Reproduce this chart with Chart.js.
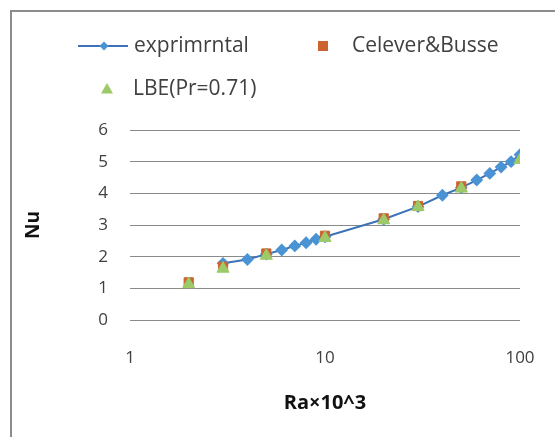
<!DOCTYPE html>
<html>
<head>
<meta charset="utf-8">
<script src="https://cdn.jsdelivr.net/npm/chart.js@4/dist/chart.umd.min.js"></script>
<style>
  html, body { margin: 0; padding: 0; background: #fff; }
  #wrap { position: relative; width: 555px; height: 437px; }
  #frame { position: absolute; left: 10px; top: 10px; right: -10px; bottom: -10px; border: 2px solid #8c8c8c; }
  canvas { position: absolute; left: 0; top: 0; }
</style>
</head>
<body>
<div id="wrap">
  <div id="frame"></div>
  <canvas id="chart" width="555" height="437"></canvas>
</div>
<script>
// Ra x 10^3 values and Nu readings
const expRa = [3, 4, 5, 6, 7, 8, 9, 10, 20, 30, 40, 50, 60, 70, 80, 90, 100];
const expNu = [1.79, 1.91, 2.08, 2.21, 2.34, 2.44, 2.55, 2.63, 3.18, 3.58, 3.94, 4.18, 4.42, 4.63, 4.83, 5.0, 5.22];

const cbRa = [2, 3, 5, 10, 20, 30, 50];
const cbNu = [1.19, 1.68, 2.1, 2.66, 3.21, 3.6, 4.22];

const lbeRa = [2, 3, 5, 10, 20, 30, 50, 100];
const lbeNu = [1.13, 1.62, 2.03, 2.59, 3.15, 3.57, 4.15, 5.05];

const xTicks = [1, 10, 100];

const blueLine = '#3c73b8';
const bluePt = '#4a93d4';
const orange = '#cc6430';
const green = '#9dca68';
const textColor = '#404040';

function toPoints(xs, ys) {
  return xs.map((x, i) => ({ x: x, y: ys[i] }));
}

// legend drawn by hand to match the two-row layout
const legendPlugin = {
  id: 'handLegend',
  afterDraw(chart) {
    const ctx = chart.ctx;
    ctx.save();
    ctx.font = '21px "Open Sans", sans-serif';
    ctx.textBaseline = 'middle';

    // row 1: line + diamond
    const y1 = 46;
    ctx.strokeStyle = blueLine;
    ctx.lineWidth = 2;
    ctx.beginPath();
    ctx.moveTo(78, y1);
    ctx.lineTo(128, y1);
    ctx.stroke();
    drawMarker(ctx, 'rectRot', 104, y1, 4.5, bluePt);
    ctx.fillStyle = textColor;
    ctx.fillText('exprimrntal', 134, y1);

    drawMarker(ctx, 'rect', 323, y1, 5, orange);
    ctx.fillStyle = textColor;
    ctx.fillText('Celever&Busse', 352, y1);

    // row 2
    const y2 = 89;
    drawMarker(ctx, 'triangle', 107, y2, 6, green);
    ctx.fillStyle = textColor;
    ctx.fillText('LBE(Pr=0.71)', 133, y2);
    ctx.restore();
  }
};

function drawMarker(ctx, style, x, y, r, color) {
  ctx.fillStyle = color;
  ctx.beginPath();
  if (style === 'rectRot') {
    ctx.moveTo(x, y - r); ctx.lineTo(x + r, y); ctx.lineTo(x, y + r); ctx.lineTo(x - r, y);
  } else if (style === 'rect') {
    ctx.rect(x - r, y - r, 2 * r, 2 * r);
  } else {
    ctx.moveTo(x, y - r); ctx.lineTo(x + r, y + r * 0.75); ctx.lineTo(x - r, y + r * 0.75);
  }
  ctx.closePath();
  ctx.fill();
}

new Chart(document.getElementById('chart'), {
  type: 'scatter',
  data: {
    datasets: [
      {
        label: 'exprimrntal',
        data: toPoints(expRa, expNu),
        showLine: true,
        borderColor: blueLine,
        borderWidth: 2,
        backgroundColor: bluePt,
        pointBorderColor: bluePt,
        pointStyle: 'rectRot',
        pointRadius: 5,
        order: 3
      },
      {
        label: 'Celever&Busse',
        data: toPoints(cbRa, cbNu),
        backgroundColor: orange,
        borderColor: orange,
        pointStyle: 'rect',
        pointRadius: 6.5,
        order: 2
      },
      {
        label: 'LBE(Pr=0.71)',
        data: toPoints(lbeRa, lbeNu),
        backgroundColor: green,
        borderColor: green,
        pointStyle: 'triangle',
        pointRadius: 7,
        order: 1
      }
    ]
  },
  options: {
    responsive: false,
    animation: false,
    layout: { padding: { left: 12, right: 35, top: 130, bottom: 0 } },
    plugins: {
      legend: { display: false },
      tooltip: { enabled: false }
    },
    scales: {
      x: {
        type: 'logarithmic',
        min: 1,
        max: 100,
        afterBuildTicks(scale) {
          scale.ticks = xTicks.map(v => ({ value: v }));
        },
        afterFit(scale) { scale.height = 117; },
        ticks: {
          color: textColor,
          font: { family: 'Open Sans', size: 17 },
          padding: 20,
          maxRotation: 0,
          callback: v => String(v)
        },
        grid: { display: false },
        border: { display: false },
        title: {
          display: true,
          text: 'Ra×10^3',
          color: '#111',
          font: { family: 'Open Sans', size: 20, weight: 'bold' },
          padding: { top: 18, bottom: 22 }
        }
      },
      y: {
        min: 0,
        max: 6,
        afterFit(scale) { scale.width = 118; },
        ticks: {
          stepSize: 1,
          color: textColor,
          font: { family: 'Open Sans', size: 17 },
          padding: 22
        },
        grid: { color: '#8a8a8a', lineWidth: 1, drawTicks: false },
        border: { display: false },
        title: {
          display: true,
          text: 'Nu',
          color: '#111',
          font: { family: 'Open Sans', size: 19, weight: 'bold' },
          padding: { top: 10 }
        }
      }
    }
  },
  plugins: [legendPlugin]
});
</script>
</body>
</html>
